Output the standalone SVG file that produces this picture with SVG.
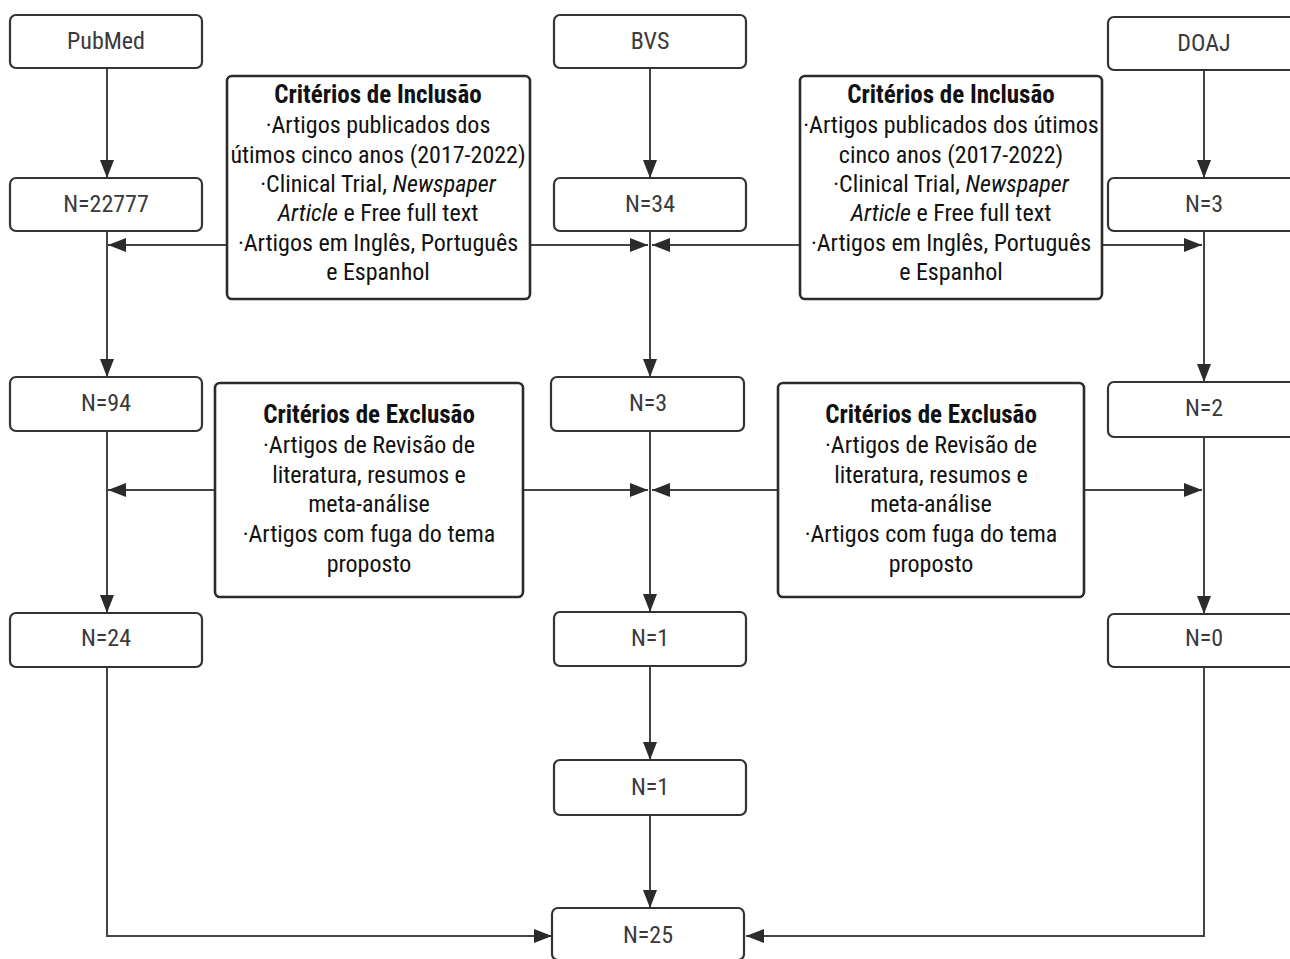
<svg xmlns="http://www.w3.org/2000/svg" width="1290" height="959" viewBox="0 0 1290 959">
<style>
.box{fill:#fff;stroke:#333;stroke-width:2.2}
.cbox{fill:#fff;stroke:#2b2b2b;stroke-width:2.6}
.lbl{font-family:"Liberation Sans Narrow","Roboto Condensed","Liberation Sans",sans-serif;font-size:24px;fill:#3a3a3a;text-anchor:middle}
.ct{font-family:"Liberation Sans Narrow","Roboto Condensed","Liberation Sans",sans-serif;font-size:24px;fill:#111;text-anchor:middle}
.b{font-weight:bold;font-size:25px}
.i{font-style:italic}
.ln{fill:none;stroke:#444;stroke-width:2}
</style>
<defs>
<marker id="ah" viewBox="0 0 18 14" refX="18" refY="7" markerWidth="18" markerHeight="14" markerUnits="userSpaceOnUse" orient="auto">
<path d="M0,0 L18,7 L0,14 Z" fill="#2b2b2b"/>
</marker>
</defs>
<rect width="1290" height="959" fill="#fff"/>
<g id="connectors">
<path class="ln" d="M107,68 V178" marker-end="url(#ah)"/>
<path class="ln" d="M107,231 V377" marker-end="url(#ah)"/>
<path class="ln" d="M107,431 V613" marker-end="url(#ah)"/>
<path class="ln" d="M107,667 V936 H552" marker-end="url(#ah)"/>
<path class="ln" d="M227,245 H108" marker-end="url(#ah)"/>
<path class="ln" d="M215,490 H108" marker-end="url(#ah)"/>
<path class="ln" d="M650,68 V178" marker-end="url(#ah)"/>
<path class="ln" d="M650,231 V377" marker-end="url(#ah)"/>
<path class="ln" d="M650,431 V612" marker-end="url(#ah)"/>
<path class="ln" d="M650,666 V760" marker-end="url(#ah)"/>
<path class="ln" d="M650,815 V908" marker-end="url(#ah)"/>
<path class="ln" d="M530,245 H648" marker-end="url(#ah)"/>
<path class="ln" d="M800,245 H652" marker-end="url(#ah)"/>
<path class="ln" d="M523,490 H648" marker-end="url(#ah)"/>
<path class="ln" d="M778,490 H652" marker-end="url(#ah)"/>
<path class="ln" d="M1204,70 V178" marker-end="url(#ah)"/>
<path class="ln" d="M1204,231 V382" marker-end="url(#ah)"/>
<path class="ln" d="M1204,437 V614" marker-end="url(#ah)"/>
<path class="ln" d="M1204,667 V936 H746" marker-end="url(#ah)"/>
<path class="ln" d="M1102,245 H1202" marker-end="url(#ah)"/>
<path class="ln" d="M1084,490 H1202" marker-end="url(#ah)"/>
</g>
<g id="pubmed"><rect class="box" x="10" y="15" width="192" height="53" rx="6"/><text class="lbl" x="106" y="49">PubMed</text></g>
<g id="bvs"><rect class="box" x="554" y="15" width="192" height="53" rx="6"/><text class="lbl" x="650" y="49">BVS</text></g>
<g id="doaj"><rect class="box" x="1108" y="17" width="192" height="53" rx="6"/><text class="lbl" x="1204" y="51">DOAJ</text></g>
<g id="pm1"><rect class="box" x="10" y="178" width="192" height="53" rx="6"/><text class="lbl" x="106" y="212">N=22777</text></g>
<g id="bvs1"><rect class="box" x="554" y="178" width="192" height="53" rx="6"/><text class="lbl" x="650" y="212">N=34</text></g>
<g id="doaj1"><rect class="box" x="1108" y="178" width="192" height="53" rx="6"/><text class="lbl" x="1204" y="212">N=3</text></g>
<g id="pm2"><rect class="box" x="10" y="377" width="192" height="54" rx="6"/><text class="lbl" x="106" y="411">N=94</text></g>
<g id="bvs2"><rect class="box" x="551" y="377" width="193" height="54" rx="6"/><text class="lbl" x="648" y="411">N=3</text></g>
<g id="doaj2"><rect class="box" x="1108" y="382" width="192" height="55" rx="6"/><text class="lbl" x="1204" y="416">N=2</text></g>
<g id="pm3"><rect class="box" x="10" y="613" width="192" height="54" rx="6"/><text class="lbl" x="106" y="646">N=24</text></g>
<g id="bvs3"><rect class="box" x="554" y="612" width="192" height="54" rx="6"/><text class="lbl" x="650" y="646">N=1</text></g>
<g id="doaj3"><rect class="box" x="1108" y="614" width="192" height="53" rx="6"/><text class="lbl" x="1204" y="646">N=0</text></g>
<g id="bvs4"><rect class="box" x="554" y="760" width="192" height="55" rx="6"/><text class="lbl" x="650" y="795">N=1</text></g>
<g id="total"><rect class="box" x="552" y="908" width="192" height="52" rx="6"/><text class="lbl" x="648" y="943">N=25</text></g>
<g id="incl-left">
<rect class="cbox" x="227" y="76" width="303" height="223" rx="5"/>
<text class="ct b" x="378" y="103">Critérios de Inclusão</text>
<text class="ct" x="378" y="133">·Artigos publicados dos</text>
<text class="ct" x="378" y="163">útimos cinco anos (2017-2022)</text>
<text class="ct" x="378" y="192">·Clinical Trial, <tspan class="i">Newspaper</tspan></text>
<text class="ct" x="378" y="221"><tspan class="i">Article</tspan> e Free full text</text>
<text class="ct" x="378" y="251">·Artigos em Inglês, Português</text>
<text class="ct" x="378" y="280">e Espanhol</text>
</g>
<g id="incl-right">
<rect class="cbox" x="800" y="76" width="302" height="223" rx="5"/>
<text class="ct b" x="951" y="103">Critérios de Inclusão</text>
<text class="ct" x="951" y="133">·Artigos publicados dos útimos</text>
<text class="ct" x="951" y="163">cinco anos (2017-2022)</text>
<text class="ct" x="951" y="192">·Clinical Trial, <tspan class="i">Newspaper</tspan></text>
<text class="ct" x="951" y="221"><tspan class="i">Article</tspan> e Free full text</text>
<text class="ct" x="951" y="251">·Artigos em Inglês, Português</text>
<text class="ct" x="951" y="280">e Espanhol</text>
</g>
<g id="excl-left">
<rect class="cbox" x="215" y="383" width="308" height="214" rx="5"/>
<text class="ct b" x="369" y="423">Critérios de Exclusão</text>
<text class="ct" x="369" y="453">·Artigos de Revisão de</text>
<text class="ct" x="369" y="483">literatura, resumos e</text>
<text class="ct" x="369" y="512">meta-análise</text>
<text class="ct" x="369" y="542">·Artigos com fuga do tema</text>
<text class="ct" x="369" y="572">proposto</text>
</g>
<g id="excl-right">
<rect class="cbox" x="778" y="383" width="306" height="214" rx="5"/>
<text class="ct b" x="931" y="423">Critérios de Exclusão</text>
<text class="ct" x="931" y="453">·Artigos de Revisão de</text>
<text class="ct" x="931" y="483">literatura, resumos e</text>
<text class="ct" x="931" y="512">meta-análise</text>
<text class="ct" x="931" y="542">·Artigos com fuga do tema</text>
<text class="ct" x="931" y="572">proposto</text>
</g>
</svg>
